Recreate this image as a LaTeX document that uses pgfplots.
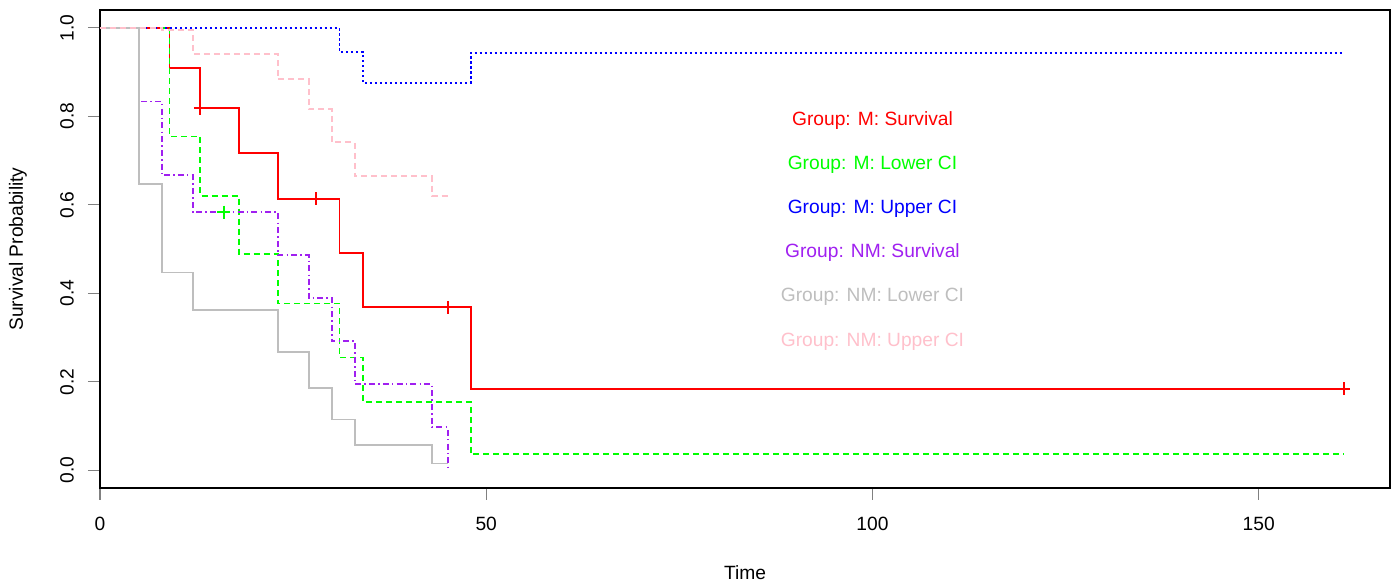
\documentclass[border=0pt]{standalone}
\usepackage{fontspec}
\setmainfont{Liberation Sans}
\usepackage{pgfplots}
\pgfplotsset{compat=1.18}
\usepackage{pgfplotstable}

\definecolor{rred}{HTML}{FF0000}
\definecolor{rgreen}{HTML}{00FF00}
\definecolor{rblue}{HTML}{0000FF}
\definecolor{rpurple}{HTML}{A020F0}
\definecolor{rgray}{HTML}{BEBEBE}
\definecolor{rpink}{HTML}{FFC0CB}

\newcommand{\fs}{\fontsize{9.6}{11}\selectfont}

% Group M
\pgfplotstableread{
t s
0 1
9 0.9091
13 0.8182
18 0.7159
23 0.6136
31 0.4909
34 0.3682
48 0.1841
161 0.1841
}\mSurv
\pgfplotstableread{
t s
0 1
9 0.7541
13 0.6193
18 0.4884
23 0.3769
31 0.2549
34 0.1549
48 0.0359
161 0.0359
}\mLow
\pgfplotstableread{
t s
0 1
23 0.9992
31 0.9456
34 0.8753
48 0.9434
161 0.9434
}\mUp
\pgfplotstableread{
t s
13 0.8182
28 0.6136
45 0.3682
161 0.1841
}\mCens
% Group NM
\pgfplotstableread{
t s
0 1
5 0.8333
8 0.6667
12 0.5833
23 0.4861
27 0.3889
30 0.2917
33 0.1944
43 0.0972
45 0
}\nSurv
\pgfplotstableread{
t s
0 1
5 0.6470
8 0.4469
12 0.3616
23 0.2675
27 0.1854
30 0.1148
33 0.0569
43 0.0153
45 0.0153
}\nLow
\pgfplotstableread{
t s
0 1
5 1
8 0.9946
12 0.9410
23 0.8834
27 0.8158
30 0.7408
33 0.6642
43 0.6196
45 0.6196
}\nUp
\pgfplotstableread{
t s
16 0.5833
}\nCens

\begin{document}
\begin{tikzpicture}
\useasboundingbox (0,0) rectangle (696.5pt,291.5pt);
\begin{axis}[
  at={(50pt,47.5pt)}, anchor=south west,
  scale only axis, width=645pt, height=239pt,
  xmin=0, xmax=167, ymin=-0.04, ymax=1.04,
  xtick={0,50,100,150}, ytick={0,0.2,0.4,0.6,0.8,1},
  xtick pos=bottom, ytick pos=left,
  tick align=outside, major tick length=6pt,
  axis line style={line width=0.7pt},
  tick style={line width=0.6pt},
  /pgf/number format/assume math mode=true,
  every tick label/.append style={font=\fs},
  label style={font=\fs},
  yticklabel={\pgfmathprintnumber[fixed,fixed zerofill,precision=1]{\tick}},
  yticklabel style={rotate=90, anchor=south},
  yticklabel shift=3.5pt,
  xticklabel shift=5pt,
  xlabel={Time}, ylabel={Survival Probability},
  xlabel style={at={(axis description cs:0.5,-0.178)}, anchor=center},
  ylabel style={at={(axis description cs:-0.0636,0.5)}, anchor=center},
]
\addplot[const plot, draw=rred, line width=0.95pt] table[x=t,y=s] {\mSurv};
\addplot[const plot, draw=rgreen, line width=0.95pt, dash pattern=on 3pt off 2pt] table[x=t,y=s] {\mLow};
\addplot[const plot, draw=rblue, line width=0.95pt, dash pattern=on 1.2pt off 1.3pt] table[x=t,y=s] {\mUp};
\addplot[const plot, draw=rpurple, line width=0.95pt, dash pattern=on 0.7pt off 1.6pt on 3pt off 1.6pt] table[x=t,y=s] {\nSurv};
\addplot[const plot, draw=rgray, line width=0.95pt] table[x=t,y=s] {\nLow};
\addplot[const plot, draw=rpink, line width=0.95pt, dash pattern=on 3pt off 2pt] table[x=t,y=s] {\nUp};
\addplot[only marks, mark=+, mark size=3.25pt, color=rred, mark options={solid, draw=rred, line width=0.95pt}] table[x=t,y=s] {\mCens};
\addplot[only marks, mark=+, mark size=3.25pt, color=rgreen, mark options={solid, draw=rgreen, line width=0.95pt}] table[x=t,y=s] {\nCens};

\node[text=rred, font=\fs] at (axis cs:100,0.791) {Group: M: Survival};
\node[text=rgreen, font=\fs] at (axis cs:100,0.691) {Group: M: Lower CI};
\node[text=rblue, font=\fs] at (axis cs:100,0.591) {Group: M: Upper CI};
\node[text=rpurple, font=\fs] at (axis cs:100,0.491) {Group: NM: Survival};
\node[text=rgray, font=\fs] at (axis cs:100,0.391) {Group: NM: Lower CI};
\node[text=rpink, font=\fs] at (axis cs:100,0.291) {Group: NM: Upper CI};
\end{axis}
\end{tikzpicture}
\end{document}
